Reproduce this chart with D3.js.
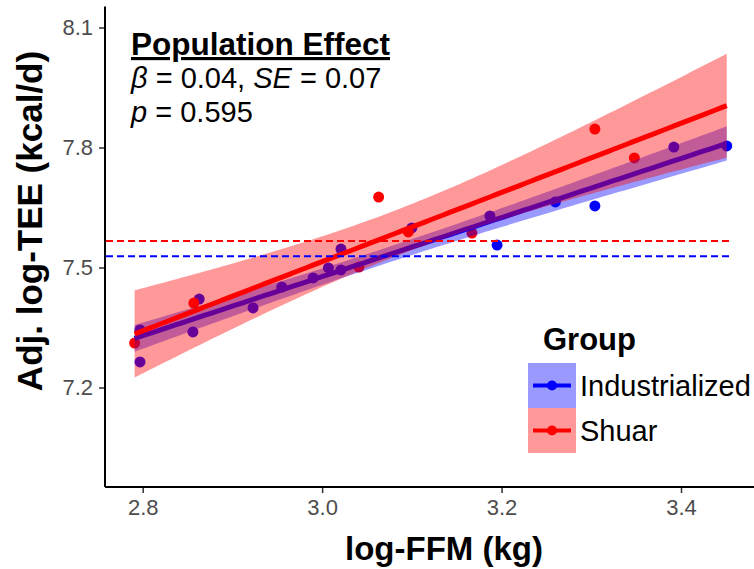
<!DOCTYPE html>
<html><head><meta charset="utf-8">
<script src="https://cdn.jsdelivr.net/npm/d3@7"></script>
<style>
body{margin:0;background:#fff}
text{font-family:"Liberation Sans",Arial,Helvetica,sans-serif}
</style>
</head><body>
<svg id="chart" width="754" height="569"></svg>
<script>
// ---------------- data ----------------
const groups = ["Industrialized", "Shuar"];
const groupColors = ["#0000FF", "#FF0000"];
const indFFM = [2.797, 2.797, 2.863, 2.856, 2.923, 2.955, 2.990, 3.007, 3.021, 3.021, 3.100, 3.187, 3.195, 3.260, 3.304, 3.392, 3.451];
const indTEE = [7.344, 7.264, 7.421, 7.339, 7.399, 7.451, 7.474, 7.499, 7.494, 7.546, 7.599, 7.629, 7.556, 7.664, 7.654, 7.801, 7.804];
const shuarFFM = [2.791, 2.857, 3.041, 3.063, 3.096, 3.167, 3.304, 3.348];
const shuarTEE = [7.311, 7.411, 7.501, 7.676, 7.589, 7.586, 7.846, 7.774];
const groupMeanTEE = [7.528, 7.566];
const xTicks = [2.8, 3.0, 3.2, 3.4];
const yTicks = [7.2, 7.5, 7.8, 8.1];
const xTitle = "log-FFM (kg)";
const yTitle = "Adj. log-TEE (kcal/d)";
const legendTitle = "Group";
const effectTitle = "Population Effect";
const effectBeta = "0.04", effectSE = "0.07", effectP = "0.595";

// ---------------- stats helpers ----------------
function lgamma(z){
  const g=7, c=[0.99999999999980993,676.5203681218851,-1259.1392167224028,771.32342877765313,
    -176.61502916214059,12.507343278686905,-0.13857109526572012,9.9843695780195716e-6,1.5056327351493116e-7];
  if(z<0.5) return Math.log(Math.PI/Math.sin(Math.PI*z)) - lgamma(1-z);
  z-=1; let x=c[0]; for(let i=1;i<g+2;i++) x+=c[i]/(z+i);
  const t=z+g+0.5; return 0.5*Math.log(2*Math.PI)+(z+0.5)*Math.log(t)-t+Math.log(x);
}
function betacf(a,b,x){
  const MAXIT=200, EPS=3e-14, FPMIN=1e-300;
  let qab=a+b, qap=a+1, qam=a-1, c=1, d=1-qab*x/qap;
  if(Math.abs(d)<FPMIN) d=FPMIN; d=1/d; let h=d;
  for(let m=1;m<=MAXIT;m++){
    const m2=2*m; let aa=m*(b-m)*x/((qam+m2)*(a+m2));
    d=1+aa*d; if(Math.abs(d)<FPMIN) d=FPMIN; c=1+aa/c; if(Math.abs(c)<FPMIN) c=FPMIN; d=1/d; h*=d*c;
    aa=-(a+m)*(qab+m)*x/((a+m2)*(qap+m2));
    d=1+aa*d; if(Math.abs(d)<FPMIN) d=FPMIN; c=1+aa/c; if(Math.abs(c)<FPMIN) c=FPMIN; d=1/d;
    const del=d*c; h*=del; if(Math.abs(del-1)<EPS) break;
  }
  return h;
}
function ibeta(x,a,b){
  if(x<=0) return 0; if(x>=1) return 1;
  const bt=Math.exp(lgamma(a+b)-lgamma(a)-lgamma(b)+a*Math.log(x)+b*Math.log(1-x));
  if(x<(a+1)/(a+b+2)) return bt*betacf(a,b,x)/a;
  return 1-bt*betacf(b,a,1-x)/b;
}
function pt(t,df){ const p=0.5*ibeta(df/(df+t*t),df/2,0.5); return t>0?1-p:p; }
function qt(p,df){ let lo=0, hi=100; for(let i=0;i<100;i++){ const m=(lo+hi)/2; if(pt(m,df)<p) lo=m; else hi=m; } return (lo+hi)/2; }
function lmFit(xs, ys){
  const n=xs.length, mx=d3.mean(xs), my=d3.mean(ys);
  let sxx=0, sxy=0; xs.forEach((x,i)=>{ sxx+=(x-mx)*(x-mx); sxy+=(x-mx)*(ys[i]-my); });
  const b=sxy/sxx, a=my-b*mx;
  let ssr=0; xs.forEach((x,i)=>{ const r=ys[i]-(a+b*x); ssr+=r*r; });
  const s=Math.sqrt(ssr/(n-2)), t=qt(0.975,n-2);
  return x=>{ const fit=a+b*x, se=s*Math.sqrt(1/n+(x-mx)*(x-mx)/sxx); return {x, fit, lo:fit-t*se, hi:fit+t*se}; };
}

// ---------------- layout ----------------
const svg = d3.select("#chart");
const panel = {left:105, right:754, top:6.5, bottom:487};
const x = d3.scaleLinear().domain([2.8, 3.4]).range([142.7, 681]);
const y = d3.scaleLinear().domain([7.2, 8.1]).range([387.5, 27.5]);

const series = [
  {name:groups[0], color:groupColors[0], xs:indFFM, ys:indTEE, mean:groupMeanTEE[0]},
  {name:groups[1], color:groupColors[1], xs:shuarFFM, ys:shuarTEE, mean:groupMeanTEE[1]}
];
const allX = indFFM.concat(shuarFFM);
const xr = d3.extent(allX);
const grid = d3.range(0, 101).map(i => xr[0] + (xr[1]-xr[0])*i/100);

// points
series.forEach(s => {
  svg.append("g").selectAll("circle").data(s.xs.map((v,i)=>[v, s.ys[i]])).join("circle")
    .attr("cx", d=>x(d[0])).attr("cy", d=>y(d[1])).attr("r", 5.5).attr("fill", s.color);
});
// smooths
series.forEach(s => {
  const f = lmFit(s.xs, s.ys);
  const pts = grid.map(f);
  svg.append("path").datum(pts)
    .attr("d", d3.area().x(d=>x(d.x)).y0(d=>y(d.lo)).y1(d=>y(d.hi)))
    .attr("fill", s.color).attr("fill-opacity", 0.4);
  svg.append("path").datum(pts)
    .attr("d", d3.line().x(d=>x(d.x)).y(d=>y(d.fit)))
    .attr("fill", "none").attr("stroke", s.color).attr("stroke-width", 5);
});
// group mean dashed lines
series.forEach(s => {
  svg.append("line")
    .attr("x1", panel.left+1).attr("x2", x(3.457))
    .attr("y1", y(s.mean)).attr("y2", y(s.mean))
    .attr("stroke", s.color).attr("stroke-width", 2).attr("stroke-dasharray", "7,4");
});

// axes
const gx = svg.append("g").attr("transform", `translate(0,${panel.bottom})`)
  .call(d3.axisBottom(x).tickValues(xTicks).tickFormat(d3.format(".1f")).tickSize(6).tickPadding(6));
gx.select(".domain").remove();
gx.selectAll("line").attr("stroke", "#333").attr("stroke-width", 1.5);
gx.selectAll("text").attr("fill", "#4D4D4D").style("font-size", "22px").attr("font-family", null);
const gy = svg.append("g").attr("transform", `translate(${panel.left},0)`)
  .call(d3.axisLeft(y).tickValues(yTicks).tickFormat(d3.format(".1f")).tickSize(6).tickPadding(6));
gy.select(".domain").remove();
gy.selectAll("line").attr("stroke", "#333").attr("stroke-width", 1.5);
gy.selectAll("text").attr("fill", "#4D4D4D").style("font-size", "22px").attr("font-family", null);
svg.append("line").attr("x1", panel.left).attr("x2", panel.right).attr("y1", panel.bottom).attr("y2", panel.bottom)
  .attr("stroke", "#000").attr("stroke-width", 2);
svg.append("line").attr("x1", panel.left).attr("x2", panel.left).attr("y1", panel.top).attr("y2", panel.bottom)
  .attr("stroke", "#000").attr("stroke-width", 2);

// axis titles
svg.append("text").attr("x", 444).attr("y", 560).attr("text-anchor", "middle")
  .style("font-size", "33px").style("font-weight", "bold").text(xTitle);
svg.append("text").attr("transform", "translate(42,221) rotate(-90)").attr("text-anchor", "middle")
  .style("font-size", "35px").style("font-weight", "bold").text(yTitle);

// annotation
svg.append("text").attr("x", 131).attr("y", 55)
  .style("font-size", "31.5px").style("font-weight", "bold").style("text-decoration", "underline").text(effectTitle);
const t2 = svg.append("text").attr("x", 131).attr("y", 88).style("font-size", "29px");
t2.append("tspan").style("font-style", "italic").text("β");
t2.append("tspan").text(" = " + effectBeta + ", ");
t2.append("tspan").style("font-style", "italic").text("SE");
t2.append("tspan").text(" = " + effectSE);
const t3 = svg.append("text").attr("x", 131).attr("y", 122).style("font-size", "29px");
t3.append("tspan").style("font-style", "italic").text("p");
t3.append("tspan").text(" = " + effectP);

// legend
svg.append("text").attr("x", 543).attr("y", 350).style("font-size", "31px").style("font-weight", "bold").text(legendTitle);
series.forEach((s, i) => {
  const ky = 363 + i*45;
  const g = svg.append("g");
  g.append("rect").attr("x", 528).attr("y", ky).attr("width", 48).attr("height", 45)
    .attr("fill", s.color).attr("fill-opacity", 0.4);
  g.append("line").attr("x1", 533).attr("x2", 571).attr("y1", ky+22.5).attr("y2", ky+22.5)
    .attr("stroke", s.color).attr("stroke-width", 4);
  g.append("circle").attr("cx", 552).attr("cy", ky+22.5).attr("r", 5).attr("fill", s.color);
  g.append("text").attr("x", 580).attr("y", ky+22.5).attr("dy", "0.35em").style("font-size", "29px").text(s.name);
});
</script>
</body></html>
